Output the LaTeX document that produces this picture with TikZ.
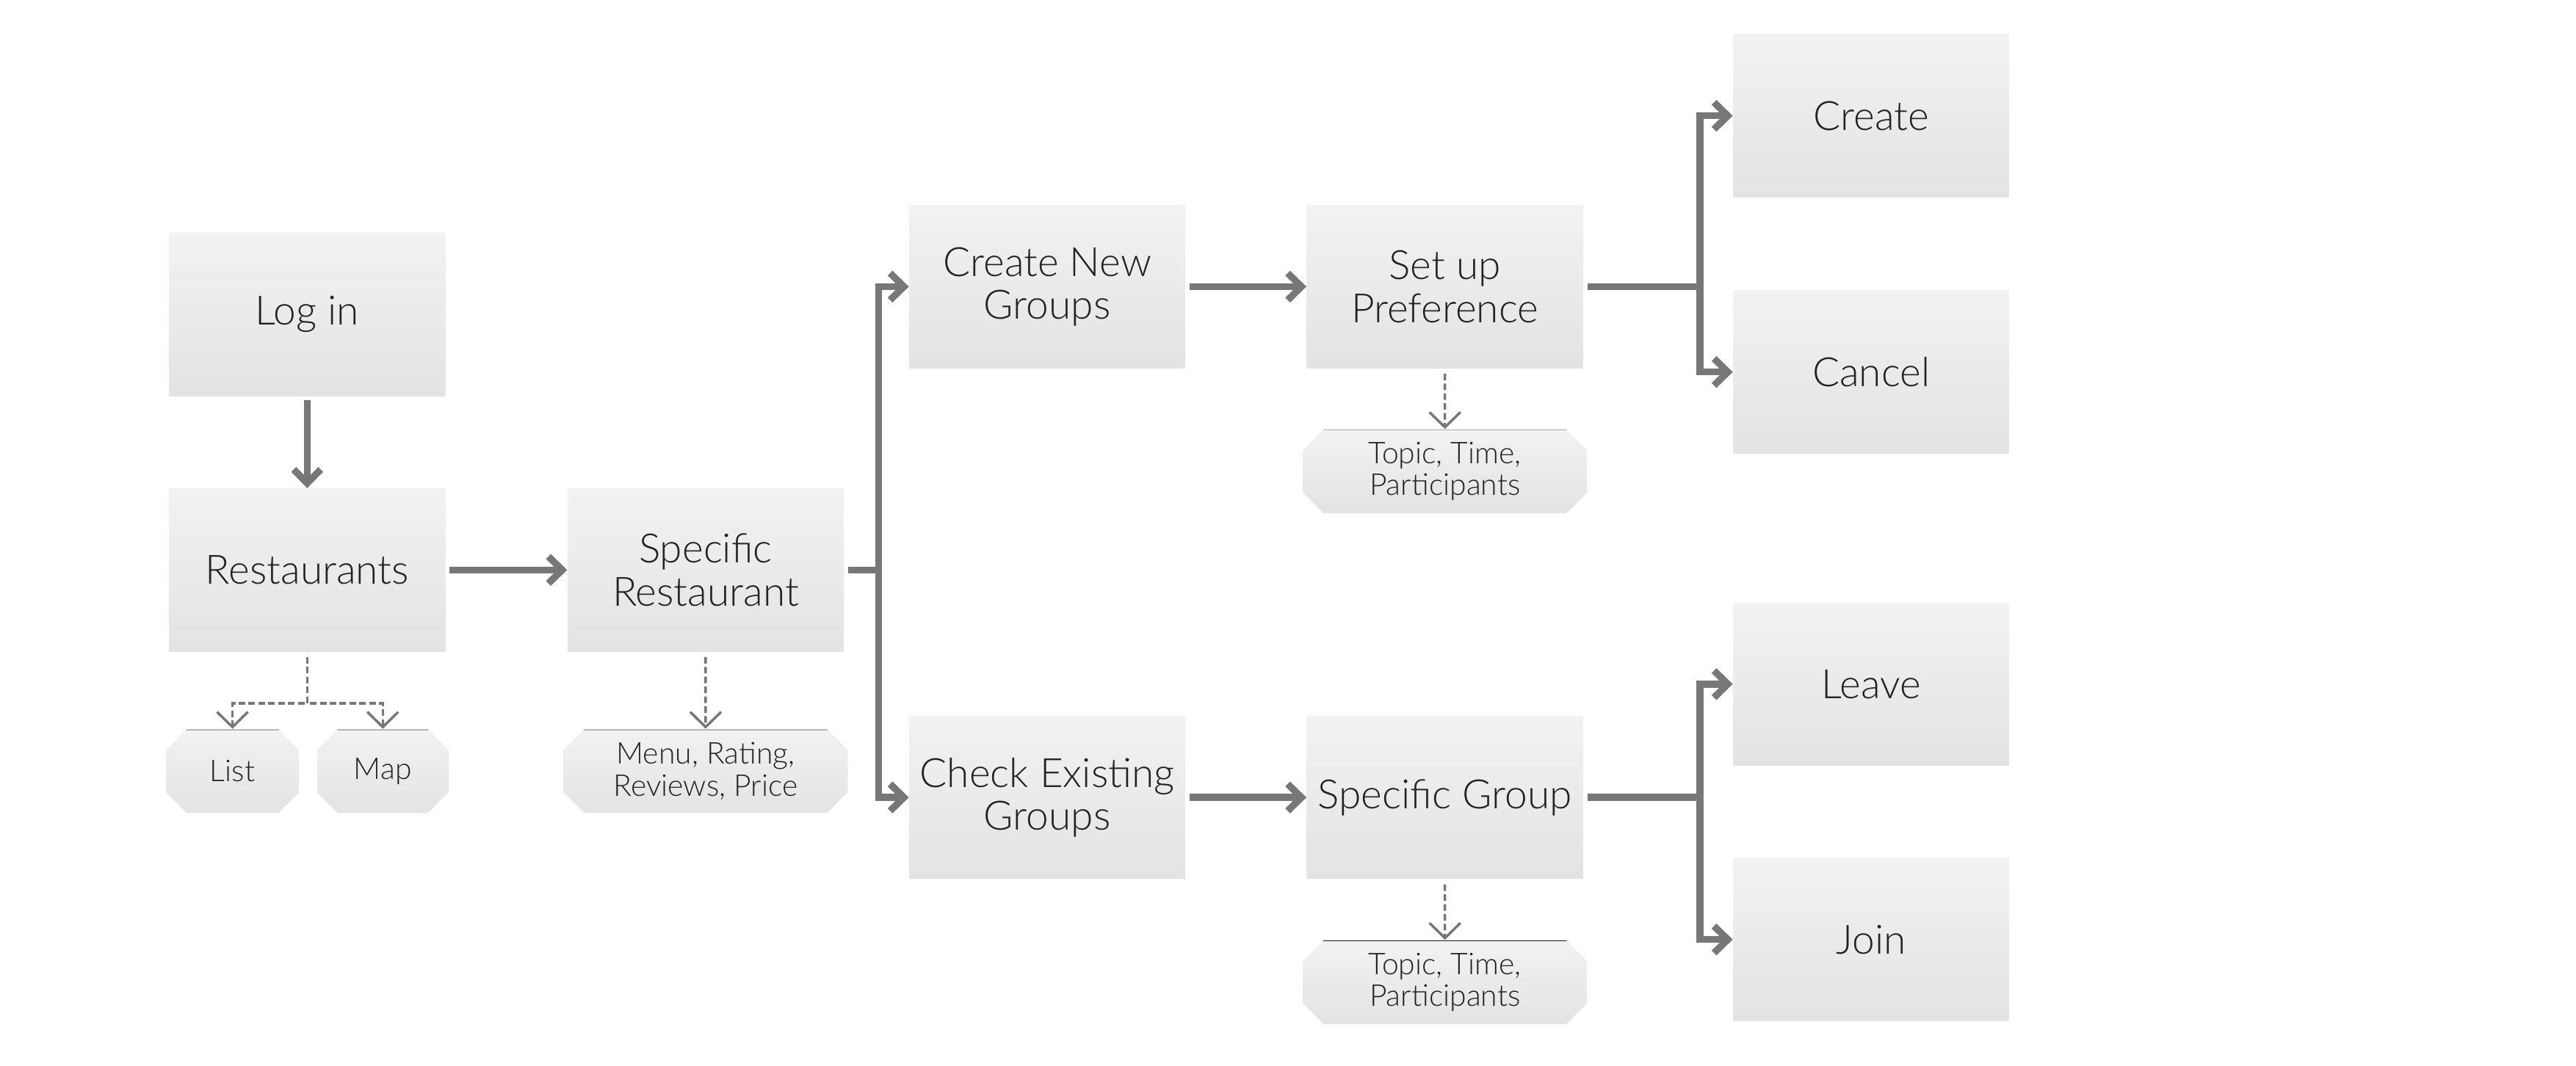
\documentclass[tikz,border=0pt]{standalone}
\usepackage{fontspec}
\setmainfont{Lato}[UprightFont={* Light}]
\usepackage{xcolor}
\definecolor{boxtop}{HTML}{F2F2F2}
\definecolor{boxbottom}{HTML}{E3E3E3}
\definecolor{arrowgray}{HTML}{777777}
\definecolor{textgray}{HTML}{222222}
\definecolor{rulegray}{HTML}{A8A8A8}
\usetikzlibrary{arrows.meta,shapes.misc,positioning}
\tikzset{
    screen/.style ={rectangle, top color=boxtop, bottom color=boxbottom, minimum width=42mm, minimum height=24.75mm, inner sep=2pt, align=center, text=textgray, font=\fontsize{17.5}{18.5}\selectfont},
    attr/.style = {chamfered rectangle, chamfered rectangle xsep=2mm, top color=boxtop, bottom color=boxbottom, minimum width=43.25mm, minimum height=12.75mm, inner sep=1pt, align=center, text=textgray, font=\fontsize{13}{13.8}\selectfont,
        path picture={\draw[#1, line width=0.8pt] (path picture bounding box.north west) -- (path picture bounding box.north east);}},
    attr/.default=rulegray,
    flow/.style = {arrowgray, line width=3pt, shorten <=0.6mm, -{Straight Barb[length=2.1mm, width=4.1mm, sharp]}},
    option/.style = {arrowgray, line width=1.1pt, dash pattern=on 1mm off 0.5mm, shorten <=0.8mm, -{Straight Barb[length=2.3mm, width=4.7mm]}}
}

\begin{document}
\begin{tikzpicture}[x=0.25mm, y=-0.25mm]
      \useasboundingbox (0,0) rectangle (1568,649);

      \node[screen] (login) at (187,191.5) {Log in};
      \node[screen] (rest) at (187,347) {Restaurants};
      \node[attr, minimum width=20.25mm] (list) at (141.5,469.5) {List};
      \node[attr, minimum width=20mm] (map) at (233,469.5) {Map};
      \node[screen] (specrest) at (429.5,347) {Specific\\Restaurant};
      \node[attr] (menu) at (429.5,469.5) {Menu, Rating,\\Reviews, Price};

      \node[screen] (newgrp) at (637.5,174.5) {Create New\\Groups};
      \node[screen] (checkgrp) at (637.5,485.5) {Check Existing\\Groups};
      \node[screen] (pref) at (879.5,174.5) {Set up\\Preference};
      \node[attr] (topicA) at (879.5,287) {Topic, Time,\\Participants};
      \node[screen] (specgrp) at (879.5,485.5) {Specific Group};
      \node[attr=black!85] (topicB) at (879.5,598) {Topic, Time,\\Participants};

      \node[screen] (create) at (1139,70.5) {Create};
      \node[screen] (cancel) at (1139,226.5) {Cancel};
      \node[screen] (leave) at (1139,416.5) {Leave};
      \node[screen] (join) at (1139,572) {Join};

      % main flow
      \path[flow] (login) edge (rest);
      \path[flow] (rest) edge (specrest);
      \path[flow] (newgrp) edge (pref);
      \path[flow] (checkgrp) edge (specgrp);
      \draw[flow] (specrest.east) -- ++(21,0) |- (newgrp.west);
      \draw[flow] (specrest.east) -- ++(21,0) |- (checkgrp.west);
      \draw[flow] (pref.east) -- ++(71,0) |- (create.west);
      \draw[flow] (pref.east) -- ++(71,0) |- (cancel.west);
      \draw[flow] (specgrp.east) -- ++(71,0) |- (leave.west);
      \draw[flow] (specgrp.east) -- ++(71,0) |- (join.west);

      % details
      \draw[option] (rest.south) -- ++(0,31.5) -| (list.north);
      \draw[option] (rest.south) -- ++(0,31.5) -| (map.north);
      \path[option] (specrest) edge (menu);
      \path[option] (pref) edge (topicA);
      \path[option] (specgrp) edge (topicB);
    \end{tikzpicture}
\end{document}
